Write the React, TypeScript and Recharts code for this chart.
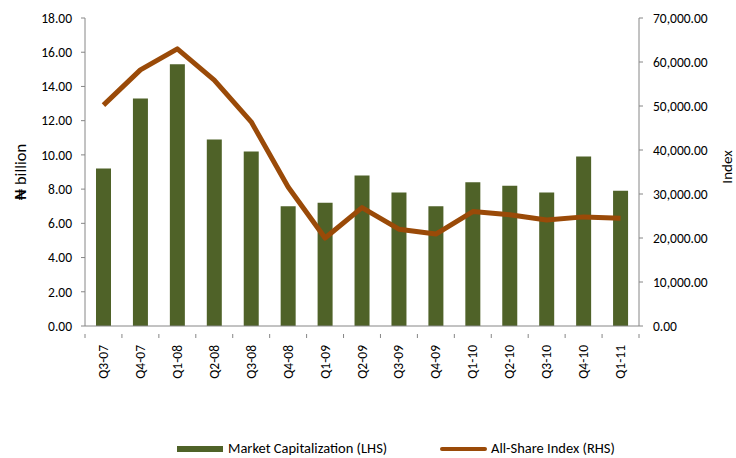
import { ComposedChart, Bar, Line, XAxis, YAxis, Legend } from 'recharts';

// quarterly market data
const quarters = ['Q3-07', 'Q4-07', 'Q1-08', 'Q2-08', 'Q3-08', 'Q4-08', 'Q1-09', 'Q2-09', 'Q3-09', 'Q4-09', 'Q1-10', 'Q2-10', 'Q3-10', 'Q4-10', 'Q1-11'];
const marketCap = [9.2, 13.3, 15.3, 10.9, 10.2, 7.0, 7.2, 8.8, 7.8, 7.0, 8.4, 8.2, 7.8, 9.9, 7.9];
const allShareIndex = [50200, 58200, 63000, 55900, 46400, 31600, 20000, 26900, 22000, 20900, 26000, 25300, 24100, 24800, 24500];
const leftTicks = [0, 2, 4, 6, 8, 10, 12, 14, 16, 18];
const rightTicks = [0, 10000, 20000, 30000, 40000, 50000, 60000, 70000];

const data = quarters.map((q, i) => ({
  quarter: q,
  cap: marketCap[i],
  asi: allShareIndex[i],
}));

const BAR_COLOR = '#4F6228';
const LINE_COLOR = '#9A4A08';
const AXIS_COLOR = '#868686';
const FONT = 'Carlito, Lato, "Open Sans", sans-serif';

// chart covers the whole 736x458 window
const CHART_W = 736;
const CHART_H = 458;
const TOP = 18;
const LEFT_W = 85;
const RIGHT_W = 97;
const PLOT_W = CHART_W - LEFT_W - RIGHT_W;
const PLOT_MID = TOP + 154;

const QuarterTick = (props: any) => {
  const { x, y, payload, index } = props;
  const band = PLOT_W / quarters.length;
  const last = index === quarters.length - 1;
  return (
    <g>
      <line x1={x - band / 2} y1={y} x2={x - band / 2} y2={y + 4} stroke={AXIS_COLOR} />
      {last && <line x1={x + band / 2} y1={y} x2={x + band / 2} y2={y + 4} stroke={AXIS_COLOR} />}
      <text
        x={x}
        y={y + 11}
        transform={`rotate(-90, ${x}, ${y + 11})`}
        textAnchor="end"
        dominantBaseline="central"
        fontSize={13.5}
        fontFamily={FONT}
        fill="#000"
      >
        {payload.value}
      </text>
    </g>
  );
};

const LegendContent = () => (
  <div style={{ position: 'relative', height: 30, fontFamily: FONT, fontSize: 14.5, color: '#000' }}>
    <div style={{ position: 'absolute', left: 177, top: 18, width: 46, height: 6, background: BAR_COLOR }} />
    <span style={{ position: 'absolute', left: 228, top: 11 }}>Market Capitalization (LHS)</span>
    <div style={{ position: 'absolute', left: 440, top: 19, width: 47, height: 4, borderRadius: 2, background: LINE_COLOR }} />
    <span style={{ position: 'absolute', left: 491, top: 11 }}>All-Share Index (RHS)</span>
  </div>
);

const fmt2 = (v: number) => v.toFixed(2);
const fmtIdx = (v: number) =>
  v.toLocaleString('en-US', { minimumFractionDigits: 2, maximumFractionDigits: 2 });

const App = () => {
  return (
    <div style={{ position: 'absolute', left: 0, top: 0, width: CHART_W, height: CHART_H, background: '#fff' }}>
      <ComposedChart
        width={CHART_W}
        height={CHART_H}
        data={data}
        margin={{ top: TOP, right: 0, left: 0, bottom: 0 }}
      >
        <XAxis
          dataKey="quarter"
          height={102}
          stroke={AXIS_COLOR}
          tickLine={false}
          tick={<QuarterTick />}
          interval={0}
        />
        <YAxis
          yAxisId="left"
          width={LEFT_W}
          domain={[0, 18]}
          ticks={leftTicks}
          tickFormatter={fmt2}
          stroke={AXIS_COLOR}
          tickSize={4}
          tickMargin={9}
          tick={{ fill: '#000', fontSize: 13.5, fontFamily: FONT }}
          label={() => (
            <text
              x={20}
              y={PLOT_MID}
              transform={`rotate(-90, 20, ${PLOT_MID})`}
              textAnchor="middle"
              dominantBaseline="central"
              fontSize={16.5}
              fontFamily={FONT}
              fill="#000"
            >
              <tspan fontWeight="bold">₦</tspan> billion
            </text>
          )}
        />
        <YAxis
          yAxisId="right"
          orientation="right"
          width={RIGHT_W}
          domain={[0, 70000]}
          ticks={rightTicks}
          tickFormatter={fmtIdx}
          stroke={AXIS_COLOR}
          tickSize={4}
          tickMargin={10}
          tick={{ fill: '#000', fontSize: 13.5, fontFamily: FONT }}
          label={() => (
            <text
              x={727}
              y={PLOT_MID - 5}
              transform={`rotate(-90, 727, ${PLOT_MID - 5})`}
              textAnchor="middle"
              dominantBaseline="central"
              fontSize={15}
              fontFamily={FONT}
              fill="#000"
            >
              Index
            </text>
          )}
        />
        <Legend verticalAlign="bottom" height={30} content={<LegendContent />} />
        <Bar
          yAxisId="left"
          dataKey="cap"
          name="Market Capitalization (LHS)"
          fill={BAR_COLOR}
          barSize={15}
          isAnimationActive={false}
        />
        <Line
          yAxisId="right"
          dataKey="asi"
          name="All-Share Index (RHS)"
          type="linear"
          stroke={LINE_COLOR}
          strokeWidth={5}
          dot={false}
          activeDot={false}
          strokeLinejoin="round"
          isAnimationActive={false}
        />
      </ComposedChart>
    </div>
  );
};

export default App;
